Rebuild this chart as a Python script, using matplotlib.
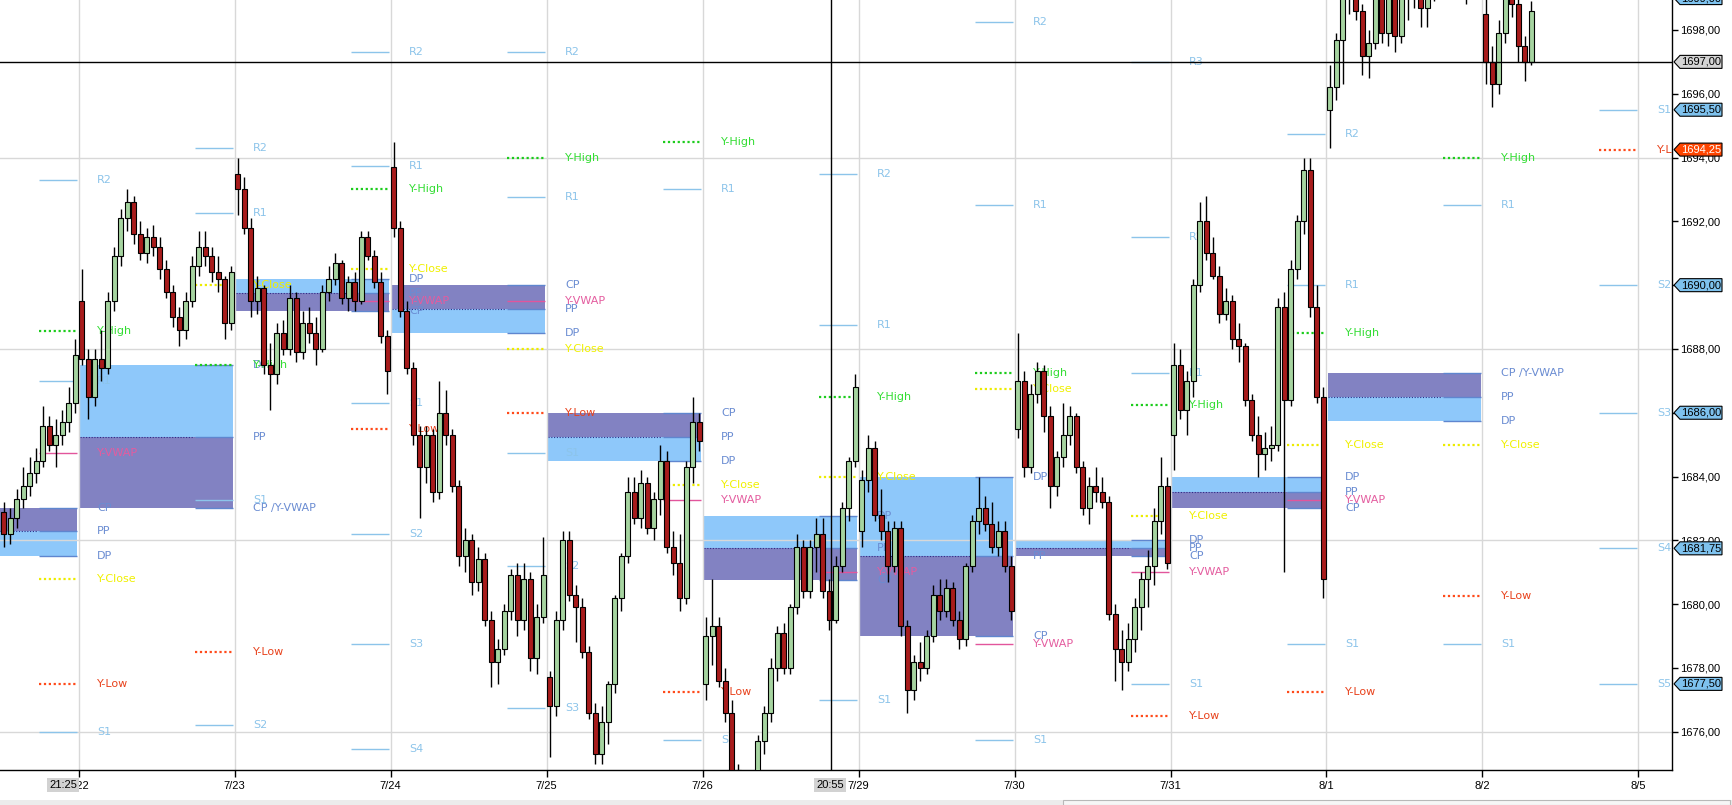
import matplotlib
matplotlib.use('Agg')
import matplotlib.pyplot as plt
from matplotlib.patches import Rectangle, Polygon
import matplotlib.transforms as mtransforms
import numpy as np

# ---------------- data ----------------
day_labels = ["7/22", "7/23", "7/24", "7/25", "7/26", "7/29", "7/30", "7/31", "8/1", "8/2", "8/5"]
bars_per_day = 24

# (open, high, low, close) per bar, one list per session
bars_0719 = [
    (1682.9, 1683.2, 1681.8, 1682.2), (1682.2, 1683.0, 1681.9, 1682.7), (1682.7, 1683.6, 1682.4, 1683.3),
    (1683.3, 1684.3, 1683.0, 1683.7), (1683.7, 1684.6, 1683.4, 1684.1), (1684.1, 1684.9, 1683.8, 1684.5),
    (1684.5, 1686.2, 1684.3, 1685.6), (1685.6, 1685.9, 1684.8, 1685.0), (1685.0, 1685.8, 1684.3, 1685.3),
    (1685.3, 1686.1, 1685.0, 1685.7), (1685.7, 1686.8, 1685.4, 1686.3), (1686.3, 1688.3, 1686.0, 1687.8),
]
bars_0722 = [
    (1689.5, 1690.5, 1687.5, 1687.7), (1687.7, 1688.0, 1685.8, 1686.5), (1686.5, 1688.0, 1686.2, 1687.7),
    (1687.7, 1688.6, 1687.0, 1687.4), (1687.4, 1689.8, 1687.2, 1689.5), (1689.5, 1691.2, 1689.2, 1690.9),
    (1690.9, 1692.4, 1690.6, 1692.1), (1692.1, 1693.0, 1691.7, 1692.6), (1692.6, 1692.8, 1691.3, 1691.6),
    (1691.6, 1692.0, 1690.8, 1691.0), (1691.0, 1691.8, 1690.7, 1691.5), (1691.5, 1691.9, 1690.9, 1691.2),
    (1691.2, 1691.5, 1690.2, 1690.5), (1690.5, 1690.8, 1689.6, 1689.8), (1689.8, 1690.0, 1688.7, 1689.0),
    (1689.0, 1689.3, 1688.1, 1688.6), (1688.6, 1689.8, 1688.3, 1689.5), (1689.5, 1690.9, 1689.3, 1690.6),
    (1690.6, 1691.7, 1690.3, 1691.2), (1691.2, 1691.7, 1690.6, 1690.9), (1690.9, 1691.2, 1690.1, 1690.4),
    (1690.4, 1690.9, 1689.8, 1690.2), (1690.2, 1690.3, 1688.3, 1688.8), (1688.8, 1690.6, 1688.6, 1690.4),
]
bars_0723 = [
    (1693.5, 1694.0, 1692.2, 1693.0), (1693.0, 1693.4, 1691.6, 1691.8), (1691.8, 1692.1, 1689.0, 1689.5),
    (1689.5, 1690.3, 1689.1, 1689.9), (1689.9, 1690.0, 1687.2, 1687.5), (1687.5, 1688.2, 1686.1, 1687.2),
    (1687.2, 1688.8, 1686.9, 1688.5), (1688.5, 1688.9, 1687.8, 1688.0), (1688.0, 1690.0, 1687.8, 1689.6),
    (1689.6, 1689.8, 1687.6, 1687.9), (1687.9, 1689.2, 1687.7, 1688.8), (1688.8, 1689.3, 1688.2, 1688.5),
    (1688.5, 1689.0, 1687.5, 1688.0), (1688.0, 1690.0, 1687.9, 1689.8), (1689.8, 1690.6, 1689.5, 1690.2),
    (1690.2, 1691.0, 1690.0, 1690.7), (1690.7, 1690.8, 1689.4, 1689.6), (1689.6, 1690.3, 1689.2, 1690.1),
    (1690.1, 1690.4, 1689.2, 1689.5), (1689.5, 1691.7, 1689.4, 1691.5), (1691.5, 1691.7, 1690.8, 1690.9),
    (1690.9, 1691.1, 1689.9, 1690.1), (1690.1, 1690.4, 1688.2, 1688.4), (1688.4, 1688.6, 1686.6, 1687.3),
]
bars_0724 = [
    (1693.7, 1694.5, 1691.5, 1691.8), (1691.8, 1692.0, 1689.0, 1689.2), (1689.2, 1689.5, 1687.2, 1687.4),
    (1687.4, 1687.6, 1685.0, 1685.3), (1685.3, 1685.6, 1682.7, 1684.3), (1684.3, 1685.6, 1683.8, 1685.3),
    (1685.3, 1685.5, 1683.2, 1683.5), (1683.5, 1687.0, 1683.3, 1686.0), (1686.0, 1686.7, 1685.0, 1685.3),
    (1685.3, 1685.5, 1683.5, 1683.7), (1683.7, 1683.9, 1681.2, 1681.5), (1681.5, 1682.4, 1681.0, 1682.0),
    (1682.0, 1682.2, 1680.3, 1680.7), (1680.7, 1681.8, 1680.4, 1681.4), (1681.4, 1681.6, 1679.3, 1679.5),
    (1679.5, 1679.8, 1677.4, 1678.2), (1678.2, 1678.9, 1677.5, 1678.6), (1678.6, 1680.0, 1678.4, 1679.8),
    (1679.8, 1681.1, 1679.5, 1680.9), (1680.9, 1681.3, 1679.0, 1679.5), (1679.5, 1681.3, 1679.2, 1680.8),
    (1680.8, 1681.0, 1677.9, 1678.3), (1678.3, 1680.0, 1677.8, 1679.6), (1679.6, 1682.1, 1679.4, 1680.9),
]
bars_0725 = [
    (1677.7, 1677.9, 1675.2, 1676.8), (1676.8, 1679.8, 1676.5, 1679.5), (1679.5, 1682.3, 1679.2, 1682.0),
    (1682.0, 1682.3, 1680.1, 1680.3), (1680.3, 1680.6, 1678.8, 1679.9), (1679.9, 1680.2, 1678.3, 1678.5),
    (1678.5, 1678.7, 1676.4, 1676.6), (1676.6, 1676.9, 1675.0, 1675.3), (1675.3, 1676.8, 1675.0, 1676.3),
    (1676.3, 1677.6, 1675.6, 1677.5), (1677.5, 1680.3, 1677.2, 1680.2), (1680.2, 1681.6, 1679.8, 1681.5),
    (1681.5, 1684.0, 1681.3, 1683.5), (1683.5, 1684.0, 1682.5, 1682.7), (1682.7, 1684.2, 1682.4, 1683.8),
    (1683.8, 1684.0, 1682.2, 1682.4), (1682.4, 1683.5, 1682.0, 1683.3), (1683.3, 1685.0, 1682.8, 1684.5),
    (1684.5, 1684.8, 1681.6, 1681.8), (1681.8, 1682.3, 1680.9, 1681.3), (1681.3, 1682.2, 1679.8, 1680.2),
    (1680.2, 1684.5, 1680.0, 1684.3), (1684.3, 1686.5, 1683.8, 1685.7), (1685.7, 1686.0, 1684.8, 1685.1),
]
bars_0726 = [
    (1677.5, 1679.6, 1677.0, 1679.0), (1679.0, 1680.8, 1678.1, 1679.3), (1679.3, 1679.6, 1677.4, 1677.6),
    (1677.6, 1678.0, 1676.3, 1676.6), (1676.6, 1677.0, 1674.5, 1674.8), (1674.8, 1675.0, 1673.5, 1673.8),
    (1673.8, 1674.2, 1673.0, 1673.5), (1673.5, 1674.6, 1673.2, 1674.4), (1674.4, 1675.9, 1674.2, 1675.7),
    (1675.7, 1676.8, 1675.3, 1676.6), (1676.6, 1678.3, 1676.3, 1678.0), (1678.0, 1679.3, 1677.6, 1679.1),
    (1679.1, 1679.4, 1677.8, 1678.0), (1678.0, 1680.0, 1677.8, 1679.9), (1679.9, 1682.2, 1679.7, 1681.8),
    (1681.8, 1682.0, 1680.2, 1680.4), (1680.4, 1682.0, 1680.2, 1681.8), (1681.8, 1682.7, 1681.0, 1682.2),
    (1682.2, 1682.7, 1680.2, 1680.4), (1680.4, 1680.8, 1679.2, 1679.5), (1679.5, 1681.5, 1679.4, 1681.2),
    (1681.2, 1683.2, 1681.0, 1683.0), (1683.0, 1684.6, 1682.6, 1684.5), (1684.5, 1687.2, 1684.3, 1686.8),
]
bars_0729 = [
    (1682.3, 1684.2, 1681.8, 1683.9), (1683.9, 1685.3, 1683.5, 1684.9), (1684.9, 1685.1, 1682.6, 1682.8),
    (1682.8, 1683.6, 1682.0, 1682.3), (1682.3, 1682.6, 1680.7, 1681.2), (1681.2, 1682.6, 1681.0, 1682.4),
    (1682.4, 1682.6, 1679.0, 1679.3), (1679.3, 1679.5, 1676.6, 1677.3), (1677.3, 1678.4, 1677.0, 1678.2),
    (1678.2, 1678.8, 1677.6, 1678.0), (1678.0, 1679.2, 1677.8, 1679.0), (1679.0, 1680.6, 1678.8, 1680.3),
    (1680.3, 1680.8, 1679.5, 1679.8), (1679.8, 1680.8, 1679.6, 1680.5), (1680.5, 1680.7, 1679.3, 1679.5),
    (1679.5, 1679.8, 1678.6, 1678.9), (1678.9, 1681.3, 1678.7, 1681.2), (1681.2, 1682.8, 1681.0, 1682.6),
    (1682.6, 1684.0, 1682.2, 1683.0), (1683.0, 1683.4, 1682.3, 1682.5), (1682.5, 1683.2, 1681.6, 1681.8),
    (1681.8, 1682.6, 1681.5, 1682.3), (1682.3, 1682.6, 1681.0, 1681.2), (1681.2, 1681.5, 1679.5, 1679.8),
]
bars_0730 = [
    (1685.5, 1688.5, 1685.2, 1687.0), (1687.0, 1687.3, 1684.0, 1684.3), (1684.3, 1686.9, 1684.1, 1686.6),
    (1686.6, 1687.6, 1686.3, 1687.3), (1687.3, 1687.5, 1685.4, 1685.9), (1685.9, 1686.2, 1683.0, 1683.7),
    (1683.7, 1684.8, 1683.4, 1684.6), (1684.6, 1686.3, 1684.3, 1685.3), (1685.3, 1686.2, 1685.0, 1685.9),
    (1685.9, 1686.0, 1684.1, 1684.3), (1684.3, 1684.5, 1682.8, 1683.0), (1683.0, 1684.0, 1682.5, 1683.7),
    (1683.7, 1684.3, 1683.2, 1683.5), (1683.5, 1684.0, 1683.0, 1683.2), (1683.2, 1683.4, 1679.5, 1679.7),
    (1679.7, 1680.0, 1677.6, 1678.6), (1678.6, 1679.2, 1677.3, 1678.2), (1678.2, 1679.4, 1677.9, 1678.9),
    (1678.9, 1680.2, 1678.5, 1679.9), (1679.9, 1681.0, 1679.2, 1680.8), (1680.8, 1681.7, 1679.9, 1681.2),
    (1681.2, 1683.0, 1680.6, 1682.6), (1682.6, 1684.6, 1682.2, 1683.7), (1683.7, 1684.0, 1681.1, 1681.3),
]
bars_0731 = [
    (1685.3, 1688.2, 1684.2, 1687.5), (1687.5, 1688.0, 1685.8, 1686.1), (1686.1, 1687.3, 1685.3, 1687.0),
    (1687.0, 1690.2, 1686.5, 1690.0), (1690.0, 1692.6, 1689.8, 1692.0), (1692.0, 1692.8, 1690.8, 1691.0),
    (1691.0, 1691.5, 1690.2, 1690.3), (1690.3, 1690.6, 1688.8, 1689.1), (1689.1, 1689.9, 1688.9, 1689.5),
    (1689.5, 1689.7, 1688.0, 1688.3), (1688.3, 1688.8, 1687.6, 1688.1), (1688.1, 1688.2, 1686.2, 1686.4),
    (1686.4, 1686.6, 1685.1, 1685.3), (1685.3, 1685.9, 1684.0, 1684.7), (1684.7, 1685.4, 1684.2, 1684.9),
    (1684.9, 1685.6, 1684.5, 1685.0), (1685.0, 1689.6, 1684.8, 1689.3), (1689.3, 1689.8, 1681.0, 1686.4),
    (1686.4, 1690.8, 1686.2, 1690.5), (1690.5, 1692.2, 1690.2, 1692.0), (1692.0, 1694.0, 1691.6, 1693.6),
    (1693.6, 1694.0, 1689.0, 1689.3), (1689.3, 1690.0, 1686.3, 1686.5), (1686.5, 1686.8, 1680.2, 1680.8),
]
bars_0801 = [
    (1695.5, 1696.9, 1694.3, 1696.2), (1696.2, 1697.9, 1695.8, 1697.7), (1697.7, 1699.5, 1696.3, 1699.0),
    (1699.0, 1700.0, 1698.5, 1699.5), (1699.5, 1699.8, 1698.3, 1698.6), (1698.6, 1698.8, 1696.6, 1697.2),
    (1697.2, 1698.0, 1696.5, 1697.6), (1697.6, 1699.3, 1697.4, 1699.0), (1699.0, 1699.5, 1697.6, 1697.9),
    (1697.9, 1699.3, 1697.5, 1699.1), (1699.1, 1699.6, 1697.3, 1697.8), (1697.8, 1700.2, 1697.6, 1699.8),
    (1699.8, 1700.3, 1698.3, 1699.3), (1699.3, 1700.0, 1698.7, 1699.6), (1699.6, 1699.9, 1698.1, 1698.7),
    (1698.7, 1699.4, 1698.1, 1699.2), (1699.2, 1700.5, 1698.9, 1700.2), (1700.2, 1701.0, 1699.5, 1700.5),
    (1700.5, 1701.2, 1699.9, 1700.8), (1700.8, 1701.3, 1700.0, 1700.3), (1700.3, 1700.9, 1699.4, 1699.7),
    (1699.7, 1700.3, 1698.8, 1700.0), (1700.0, 1700.6, 1699.3, 1699.6), (1699.6, 1700.2, 1699.1, 1699.2),
]
bars_0802 = [
    (1698.5, 1699.2, 1696.3, 1697.0), (1697.0, 1697.5, 1695.6, 1696.3), (1696.3, 1698.3, 1696.0, 1697.9),
    (1697.9, 1699.5, 1697.6, 1699.2), (1699.2, 1699.8, 1698.4, 1698.8), (1698.8, 1699.2, 1697.0, 1697.5),
    (1697.5, 1697.8, 1696.4, 1697.0), (1697.0, 1698.9, 1696.9, 1698.6),
]
sessions = [bars_0719, bars_0722, bars_0723, bars_0724, bars_0725, bars_0726,
            bars_0729, bars_0730, bars_0731, bars_0801, bars_0802]
session_start = [-0.5, 0, 1, 2, 3, 4, 5, 6, 7, 8, 9]

# pivot levels: (day boundary index, label, price, kind)
levels = [
    (0, "R2", 1693.3, "rs"), (0, "Y-High", 1688.55, "yh"), (0, "R1", 1687.0, "rs"),
    (0, "Y-VWAP", 1684.75, "vw"), (0, "CP", 1683.0, "cpr"), (0, "PP", 1682.3, "cpr"),
    (0, "DP", 1681.5, "cpr"), (0, "Y-Close", 1680.8, "yc"), (0, "Y-Low", 1677.5, "yl"),
    (0, "S1", 1676.0, "rs"),
    (1, "R2", 1694.3, "rs"), (1, "R1", 1692.25, "rs"), (1, "Y-Close", 1690.0, "yc"),
    (1, "DP", 1687.5, "cpr"), (1, "Y-High", 1687.5, "yh"), (1, "PP", 1685.25, "cpr"),
    (1, "S1", 1683.25, "rs"), (1, "CP /Y-VWAP", 1683.0, "cpr"), (1, "Y-Low", 1678.5, "yl"),
    (1, "S2", 1676.2, "rs"),
    (2, "R2", 1697.3, "rs"), (2, "R1", 1693.75, "rs"), (2, "Y-High", 1693.0, "yh"),
    (2, "Y-Close", 1690.5, "yc"), (2, "DP", 1690.2, "cpr"), (2, "PP", 1689.75, "cpr"),
    (2, "Y-VWAP", 1689.5, "vw"), (2, "CP", 1689.2, "cpr"), (2, "S1", 1686.3, "rs"),
    (2, "Y-Low", 1685.5, "yl"), (2, "S2", 1682.2, "rs"), (2, "S3", 1678.75, "rs"),
    (2, "S4", 1675.45, "rs"),
    (3, "R2", 1697.3, "rs"), (3, "Y-High", 1694.0, "yh"), (3, "R1", 1692.75, "rs"),
    (3, "CP", 1690.0, "cpr"), (3, "Y-VWAP", 1689.5, "vw"), (3, "PP", 1689.25, "cpr"),
    (3, "DP", 1688.5, "cpr"), (3, "Y-Close", 1688.0, "yc"), (3, "Y-Low", 1686.0, "yl"),
    (3, "S1", 1684.75, "rs"), (3, "S2", 1681.2, "rs"), (3, "S3", 1676.75, "rs"),
    (4, "Y-High", 1694.5, "yh"), (4, "R1", 1693.0, "rs"), (4, "CP", 1686.0, "cpr"),
    (4, "PP", 1685.25, "cpr"), (4, "DP", 1684.5, "cpr"), (4, "Y-Close", 1683.75, "yc"),
    (4, "Y-VWAP", 1683.25, "vw"), (4, "Y-Low", 1677.25, "yl"), (4, "S1", 1675.75, "rs"),
    (5, "R2", 1693.5, "rs"), (5, "R1", 1688.75, "rs"), (5, "Y-High", 1686.5, "yh"),
    (5, "Y-Close", 1684.0, "yc"), (5, "DP", 1682.75, "cpr"), (5, "PP", 1681.75, "cpr"),
    (5, "Y-VWAP", 1681.0, "vw"), (5, "CP", 1680.75, "cpr"), (5, "S1", 1677.0, "rs"),
    (5, "Y-Low", 1674.62, "yl"),
    (6, "R2", 1698.25, "rs"), (6, "R1", 1692.5, "rs"), (6, "Y-High", 1687.25, "yh"),
    (6, "Y-Close", 1686.75, "yc"), (6, "DP", 1684.0, "cpr"), (6, "PP", 1681.5, "cpr"),
    (6, "CP", 1679.0, "cpr"), (6, "Y-VWAP", 1678.75, "vw"), (6, "S1", 1675.75, "rs"),
    (7, "R3", 1697.0, "rs"), (7, "R2", 1691.5, "rs"), (7, "R1", 1687.25, "rs"),
    (7, "Y-High", 1686.25, "yh"), (7, "Y-Close", 1682.75, "yc"), (7, "DP", 1682.0, "cpr"),
    (7, "PP", 1681.75, "cpr"), (7, "CP", 1681.5, "cpr"), (7, "Y-VWAP", 1681.0, "vw"),
    (7, "S1", 1677.5, "rs"), (7, "Y-Low", 1676.5, "yl"),
    (8, "R2", 1694.75, "rs"), (8, "R1", 1690.0, "rs"), (8, "Y-High", 1688.5, "yh"),
    (8, "Y-Close", 1685.0, "yc"), (8, "DP", 1684.0, "cpr"), (8, "PP", 1683.5, "cpr"),
    (8, "Y-VWAP", 1683.25, "vw"), (8, "CP", 1683.0, "cpr"), (8, "S1", 1678.75, "rs"),
    (8, "Y-Low", 1677.25, "yl"),
    (9, "Y-High", 1694.0, "yh"), (9, "R1", 1692.5, "rs"), (9, "CP /Y-VWAP", 1687.25, "cpr"),
    (9, "PP", 1686.5, "cpr"), (9, "DP", 1685.75, "cpr"), (9, "Y-Close", 1685.0, "yc"),
    (9, "Y-Low", 1680.25, "yl"), (9, "S1", 1678.75, "rs"),
    (10, "S1", 1695.5, "rs"), (10, "Y-Low", 1694.25, "yl"), (10, "S2", 1690.0, "rs"),
    (10, "S3", 1686.0, "rs"), (10, "S4", 1681.75, "rs"), (10, "S5", 1677.5, "rs"),
]

# central pivot range boxes drawn across the preceding session: (boundary, CP, PP, DP)
cpr_boxes = [
    (0, 1683.0, 1682.3, 1681.5), (1, 1683.0, 1685.25, 1687.5), (2, 1689.2, 1689.75, 1690.2),
    (3, 1690.0, 1689.25, 1688.5), (4, 1686.0, 1685.25, 1684.5), (5, 1680.75, 1681.75, 1682.75),
    (6, 1679.0, 1681.5, 1684.0), (7, 1681.5, 1681.75, 1682.0), (8, 1683.0, 1683.5, 1684.0),
    (9, 1687.25, 1686.5, 1685.75),
]

# price tags on the right axis: (price, kind)
tag_prices = [1699.00, 1697.00, 1695.50, 1694.25, 1690.00, 1686.00, 1681.75, 1677.50]
tag_kinds = ["rs", "cursor", "rs", "yl", "rs", "rs", "rs", "rs"]

cursor_price = 1697.0
cursor_day = 4.823
time_marks = [(-0.10, "21:25"), (4.817, "20:55")]
y_ticks = list(range(1676, 1699, 2))

# ---------------- styling ----------------
W, H = 1732, 805
fig = plt.figure(figsize=(W / 100, H / 100), dpi=100)
fig.patch.set_facecolor("white")
ax = fig.add_axes([0, 35 / H, 1672 / W, 770 / H])
ax.set_xlim(-0.504, 10.215)
ax.set_ylim(1674.80, 1698.94)

styles = {
    "rs":  dict(line="#8cc4ea", text="#8cc4ea", ls="-", lw=1.0),
    "cpr": dict(line="#5f86cf", text="#6a8cd2", ls="-", lw=1.0),
    "yh":  dict(line="#1ccc1c", text="#33dd33", ls=(0, (1, 1.2)), lw=1.6),
    "yl":  dict(line="#ff4a1a", text="#e8421c", ls=(0, (1, 1.2)), lw=1.6),
    "yc":  dict(line="#ecec00", text="#f0f000", ls=(0, (1, 1.2)), lw=1.6),
    "vw":  dict(line="#e2559c", text="#e45c9f", ls="-", lw=1.0),
}
box_blue = "#8ec8fa"
box_purple = "#8282c2"
up_col = "#a6d4a0"
dn_col = "#a81c1c"
grid_col = "#d8d8d8"

# grid
for p in (1676, 1682, 1688, 1694):
    ax.axhline(p, color=grid_col, lw=1, zorder=1.5)
for d in range(len(day_labels)):
    ax.axvline(d, color=grid_col, lw=1, zorder=1.5)

# CPR boxes
for b, cp, pp, dp in cpr_boxes:
    x0, x1 = b - 1 + 0.012, b - 0.012
    ax.add_patch(Rectangle((x0, min(cp, pp)), x1 - x0, abs(cp - pp), fc=box_purple, ec="none", zorder=1))
    ax.add_patch(Rectangle((x0, min(pp, dp)), x1 - x0, abs(pp - dp), fc=box_blue, ec="none", zorder=1))
    ax.hlines(pp, x0, b - 0.26, colors="#2c2c88", linestyles=(0, (1, 1.5)), lw=0.8, zorder=1.2)

# levels: short lines at the end of previous session, labels at the start of the session
for b, name, p, kind in levels:
    st = styles[kind]
    ax.hlines(p, b - 0.255, b - 0.012, colors=st["line"], linestyles=st["ls"], lw=st["lw"], zorder=1.6)
    ax.text(b + 0.12, p, name, color=st["text"], fontsize=8, family="DejaVu Sans",
            ha="left", va="center", zorder=2, clip_on=True)

# candles
bw = 0.78 / bars_per_day
for start, sess in zip(session_start, sessions):
    for k, (o, h, l, c) in enumerate(sess):
        x = start + (k + 0.5) / bars_per_day
        ax.vlines(x, l, h, colors="black", lw=1, zorder=3)
        col = up_col if c >= o else dn_col
        ax.add_patch(Rectangle((x - bw / 2, min(o, c)), bw, max(abs(c - o), 0.05),
                               fc=col, ec="black", lw=0.8, zorder=4))

# cursor lines
ax.axhline(cursor_price, color="black", lw=1, zorder=5)
ax.axvline(cursor_day, color="black", lw=1, zorder=5)

# axes styling
for s in ("top", "left"):
    ax.spines[s].set_visible(False)
for s in ("right", "bottom"):
    ax.spines[s].set_color("black")
    ax.spines[s].set_linewidth(1)
ax.yaxis.tick_right()
ax.set_yticks(y_ticks)
ax.set_yticklabels([f"{v:.2f}".replace(".", ",") for v in y_ticks], family="Liberation Sans", fontsize=8)
ax.tick_params(axis="y", direction="out", length=4, width=1, pad=2, colors="black")
ax.set_xticks(range(len(day_labels)))
ax.set_xticklabels(day_labels, family="Liberation Sans", fontsize=8)
ax.tick_params(axis="x", direction="out", length=5, width=1, pad=3, colors="black")

blend = mtransforms.blended_transform_factory(ax.transData, ax.transAxes)
for xd, t in time_marks:
    ax.text(xd, -0.019, t, transform=blend, ha="center", va="center", fontsize=8,
            family="Liberation Sans", color="black", zorder=10, clip_on=False,
            bbox=dict(boxstyle="square,pad=0.18", fc="#d2d2d2", ec="none"))

# price tags
tag_fc = {"rs": "#7ec2ee", "yl": "#ff4500", "cursor": "#d4d4d4"}
tag_tc = {"rs": "black", "yl": "white", "cursor": "black"}
for p, kind in zip(tag_prices, tag_kinds):
    y = ax.transData.transform((0, p))[1]
    xt, x0, x1, hh = 1674, 1680, 1722, 6.5
    pts = [(xt, y), (x0, y + hh), (x1, y + hh), (x1, y - hh), (x0, y - hh)]
    fig.add_artist(Polygon([(px / W, py / H) for px, py in pts], closed=True,
                           transform=fig.transFigure, fc=tag_fc[kind], ec="black", lw=0.8, zorder=5))
    fig.text((x0 + x1) / 2 / W, y / H, f"{p:.2f}".replace(".", ","), ha="center", va="center",
             fontsize=8, family="Liberation Sans", color=tag_tc[kind], zorder=6)

# bottom scrollbar strip
fig.add_artist(Rectangle((0, 0), 1, 5 / H, transform=fig.transFigure, fc="#ececec", ec="none", zorder=1))
fig.add_artist(Rectangle((1063 / W, 0), 667 / W, 5 / H, transform=fig.transFigure,
                         fc="#f6f6f6", ec="#b8b8b8", lw=0.8, zorder=2))

fig.savefig("out.png", dpi=100)
